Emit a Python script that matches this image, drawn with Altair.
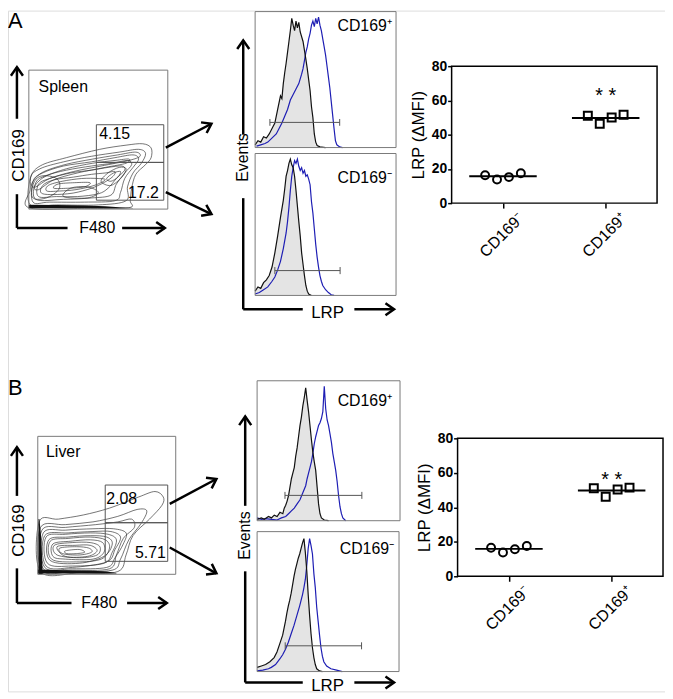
import math
import altair as alt
import pandas as pd

FONT = "Liberation Sans"
W, H = 662, 686

# ===================== DATA =====================
groups = ["CD169⁻", "CD169⁺"]
lrp_ticks = [0, 20, 40, 60, 80]

spleen_neg = [16.3, 13.8, 15.2, 17.5]
spleen_pos = [51.0, 46.4, 50.0, 51.6]
liver_neg = [16.5, 13.8, 15.7, 17.6]
liver_pos = [51.1, 46.1, 50.3, 51.4]
sig_text = "* *"
spleen_sig_at = 62.6
liver_sig_at = 56.0

tissues = ["Spleen", "Liver"]
spleen_gate_pct = ["4.15", "17.2"]
liver_gate_pct = ["2.08", "5.71"]
# gates: [x0, x1, y0, y1] in F480 / CD169 channel units (0-100)
spleen_gates = [[48.6, 97.1, 33.6, 60.7], [48.6, 97.1, 6.4, 33.6]]
liver_gates = [[48.9, 94.2, 37.4, 64.7], [48.9, 94.2, 9.4, 37.4]]

spleen_contours = [
    [(0, 1), (1, 14), (2, 25), (10, 32), (27, 37), (51, 43), (70, 46), (82, 47), (88, 44), (88, 37), (84, 32), (77, 25), (74, 15), (73, 6), (72, 1), (40, 0.5)],
    [(1, 3), (1, 22), (8, 29), (25, 34), (45, 38), (65, 41), (79, 43), (84, 40), (81, 33), (75, 26), (71, 16), (70, 6), (50, 3), (20, 3)],
    [(2, 18), (9, 26), (26, 32), (46, 36), (64, 39), (77, 41), (80, 38), (72, 35), (52, 31), (32, 27), (15, 22), (5, 16)],
    [(3, 5), (3, 20), (10, 26), (25, 31), (45, 34), (62, 37), (75, 39), (79, 36), (75, 30), (69, 22), (66, 12), (62, 6), (40, 5), (15, 5)],
    [(4, 16), (11, 23), (27, 29), (46, 33), (62, 35), (72, 36), (70, 33), (55, 30), (35, 26), (18, 21), (7, 14)],
    [(5, 7), (5, 19), (12, 24), (27, 28), (45, 31), (60, 33), (71, 35), (74, 32), (69, 26), (63, 18), (59, 10), (45, 8), (25, 7)],
    [(7, 9), (7, 18), (15, 22), (30, 26), (45, 28), (57, 30), (67, 31), (69, 28), (63, 22), (57, 15), (50, 11), (35, 9), (20, 9)],
    [(10, 11), (10, 17), (18, 21), (32, 23), (45, 25), (55, 26), (62, 27), (60, 23), (52, 18), (42, 14), (28, 11)],
    [(13, 13), (14, 17), (24, 20), (38, 22), (50, 22), (55, 21), (47, 17), (34, 14), (22, 13)],
    [(18, 15), (21, 18), (33, 19), (44, 19), (40, 16), (28, 15)],
    [(52, 20), (57, 26), (65, 30), (70, 29), (67, 23), (59, 17)],
    [(56, 22), (61, 26), (66, 27), (64, 23), (59, 20)],
    [(2, 10), (4, 20), (10, 24), (20, 22), (22, 15), (15, 9), (6, 7)],
    [(25, 9), (30, 15), (42, 16), (50, 12), (42, 8)],
]
liver_contours = [
    [(1, 38), (15, 40), (33, 43), (52, 48), (73, 56), (85, 60), (91, 56), (90, 50), (81, 40), (69, 28), (64, 14), (58, 2), (30, 1), (2, 2)],
    [(2, 34), (20, 36), (40, 38), (58, 42), (72, 47), (79, 46), (75, 37), (66, 25), (60, 11), (54, 3), (25, 2), (3, 3)],
    [(3, 32), (20, 34), (42, 36), (58, 38), (68, 40), (70, 34), (62, 26), (57, 14), (52, 4), (25, 3), (4, 4)],
    [(4, 30), (20, 32), (40, 33), (55, 33), (64, 30), (62, 22), (56, 12), (50, 5), (25, 4), (5, 5)],
    [(5, 28), (22, 30), (40, 31), (53, 31), (60, 27), (56, 18), (50, 9), (25, 5), (6, 6)],
    [(6, 27), (20, 29), (38, 30), (51, 29), (57, 25), (54, 16), (48, 8), (25, 6), (7, 8)],
    [(8, 25), (22, 27), (38, 28), (50, 27), (54, 22), (48, 13), (30, 8), (9, 10)],
    [(9, 24), (22, 26), (38, 27), (49, 25), (52, 19), (46, 11), (28, 9), (10, 11)],
    [(11, 22), (24, 24), (38, 25), (47, 23), (48, 16), (40, 11), (20, 11), (11, 13)],
    [(12, 21), (25, 23), (38, 23), (45, 20), (43, 14), (30, 12), (14, 14)],
    [(14, 20), (27, 21), (38, 21), (43, 17), (36, 13), (20, 13)],
    [(16, 19), (28, 20), (37, 19), (39, 16), (30, 14), (18, 15)],
    [(20, 17), (30, 18), (34, 16), (28, 15), (21, 15)],
]
# events piled on the axes (position, lower, upper)
spleen_pile_bottom = [(0, 0.6, 3.2), (20, 0.6, 3.0), (40, 0.6, 2.6), (55, 0.6, 2.0), (65, 0.6, 1.4), (75, 0.6, 0.8)]
liver_pile_bottom = [(0, 0.6, 3.4), (20, 0.6, 3.0), (40, 0.6, 2.6), (50, 0.6, 2.0), (57, 0.6, 1.0)]
liver_pile_left = [(0, 0.5, 3.5), (10, 0.5, 3.2), (20, 0.5, 2.8), (30, 0.5, 2.2), (40, 0.5, 1.2)]

hist_labels = ["CD169⁺", "CD169⁻"]
# histograms: (LRP channel, % of max)
spleen_pos_ctrl = [(0, 2), (2, 5), (4, 4), (6, 8), (8, 7), (10, 10), (12, 14), (14, 18), (16, 28), (18, 38), (19, 36), (20, 47), (21, 55), (22, 62), (23, 70), (24, 78), (25, 86), (26, 95), (27, 90), (28, 86), (29, 93), (30, 88), (31, 92), (32, 85), (34, 78), (36, 65), (37, 58), (38, 50), (39, 42), (40, 30), (41, 22), (42, 10), (43, 4), (44, 1.5), (46, 0.5), (50, 0)]
spleen_pos_lrp = [(1, 1), (4, 2), (7, 3), (9, 4), (11, 6), (13, 8), (15, 10), (17, 14), (19, 18), (21, 23), (23, 28), (25, 35), (27, 39), (29, 43), (31, 47), (33, 54), (34, 58), (35, 64), (36, 70), (37, 74), (38, 80), (39, 84), (40, 90), (41, 93), (42, 89), (43, 95), (44, 91), (45, 96), (46, 90), (47, 86), (48, 80), (49, 74), (50, 68), (51, 60), (52, 52), (53, 44), (54, 34), (55, 24), (56, 14), (57, 5), (58, 2), (60, 0.5), (62, 0)]
spleen_pos_marker = [10.5, 60.0, 18.5]
spleen_neg_ctrl = [(0, 3), (2, 6), (4, 5), (6, 9), (8, 11), (10, 14), (12, 20), (14, 30), (16, 42), (18, 55), (20, 67), (21, 75), (22, 84), (23, 88), (24, 93), (25, 96), (26, 92), (27, 90), (28, 84), (29, 74), (30, 63), (31, 52), (32, 42), (33, 30), (34, 22), (35, 14), (36, 7), (37, 3), (38, 1), (40, 0)]
spleen_neg_lrp = [(0, 1), (3, 2), (6, 4), (9, 6), (12, 10), (14, 13), (16, 18), (18, 24), (20, 33), (22, 44), (23, 52), (24, 62), (25, 74), (26, 84), (27, 90), (28, 95), (29, 93), (30, 96), (31, 91), (32, 88), (33, 90), (34, 86), (35, 88), (36, 84), (37, 85), (38, 82), (39, 78), (40, 66), (41, 58), (42, 47), (43, 36), (44, 27), (45, 20), (46, 14), (47, 10), (48, 7), (50, 4), (52, 2), (54, 0.5), (56, 0)]
spleen_neg_marker = [14.0, 60.3, 17.5]
liver_pos_ctrl = [(0, 1), (3, 2), (5, 1), (8, 3), (10, 2), (12, 4), (14, 3), (16, 6), (18, 5), (19, 9), (20, 11), (21, 14), (22, 18), (23, 24), (24, 30), (25, 34), (26, 38), (27, 46), (28, 52), (29, 60), (30, 68), (31, 74), (32, 82), (33, 88), (34, 95), (35, 86), (36, 78), (37, 68), (38, 58), (39, 49), (40, 42), (41, 36), (42, 24), (43, 12), (44, 5), (45, 2), (47, 0.5), (50, 0)]
liver_pos_lrp = [(0, 2), (3, 1), (6, 1.5), (10, 1), (14, 0.5), (17, 2), (20, 3), (22, 5), (24, 7), (26, 9), (28, 12), (30, 15), (32, 20), (34, 25), (35, 30), (36, 34), (37, 38), (38, 42), (39, 48), (40, 55), (41, 60), (42, 64), (43, 68), (44, 70), (45, 73), (46, 78), (47, 96), (48, 80), (49, 72), (50, 68), (51, 62), (52, 56), (53, 48), (54, 42), (55, 36), (56, 28), (57, 18), (58, 10), (59, 5), (60, 2), (62, 0)]
liver_pos_marker = [19.5, 73.3, 18.1]
liver_neg_ctrl = [(0, 3), (3, 4), (6, 5), (9, 7), (12, 10), (14, 14), (16, 20), (18, 26), (19, 31), (20, 36), (21, 42), (22, 47), (23, 51), (24, 56), (25, 62), (26, 68), (27, 73), (28, 77), (29, 81), (30, 84), (31, 88), (32, 92), (33, 95), (34, 85), (35, 72), (36, 55), (37, 40), (38, 27), (39, 17), (40, 10), (41, 5), (42, 2), (44, 0.5), (46, 0)]
liver_neg_lrp = [(0, 0.5), (4, 1), (8, 2), (10, 3), (13, 5), (16, 9), (18, 12), (20, 16), (22, 21), (24, 27), (26, 33), (28, 40), (30, 47), (32, 55), (33, 60), (34, 66), (35, 76), (36, 88), (37, 95), (38, 90), (39, 84), (40, 70), (41, 60), (42, 46), (43, 36), (44, 26), (45, 17), (46, 11), (47, 7), (49, 4), (52, 2), (56, 1), (60, 0)]
liver_neg_marker = [19.8, 73.6, 18.4]

# ===================== LAYOUT (pixels on the canvas) =====================
BOX = {
    "spleen": {"contour": (21, 161, 60, 200), "hist_pos": (249, 391, 1, 138),
               "hist_neg": (249, 391, 144, 287), "dot": (447, 654, 56, 194)},
    "liver": {"contour": (30, 169, 429, 568), "hist_pos": (251, 395, 373, 514),
              "hist_neg": (251, 394, 525, 666), "dot": (453, 660, 431, 570)},
}
TISSUE_POS = {"spleen": (7, 84), "liver": (6, 85)}
PCT_POS = {"spleen": [(50.7, 50.7, "left"), (93.6, 7.9, "right")],
           "liver": [(49.6, 51.1, "left"), (92.8, 11.5, "right")]}
HLABEL_POS = {"spleen": [(97, 86), (97, 79)], "liver": [(94.4, 82), (96.5, 84)]}
JITTER_PX = [-18, -6, 6, 18]

# line segments (x, y, x2, y2, arrowhead at (x2, y2)?)
SEGMENTS = [
    (9, 109, 9, 57, True), (9, 185, 9, 219, False), (9, 219, 60, 219, False), (115, 219, 158, 219, True),
    (159, 138, 205, 114, True), (159, 183, 205, 205, True),
    (237, 125, 237, 30, True), (237, 189, 237, 301, False), (237, 301, 297, 301, False), (349, 301, 389, 301, True),
    (9, 489, 9, 440, True), (9, 562, 9, 597, False), (9, 597, 64, 597, False), (120, 597, 160, 597, True),
    (163, 497, 210, 472, True), (163, 541, 210, 567, True),
    (239, 499, 239, 409, True), (239, 565, 239, 677, False), (239, 677, 297, 677, False), (349, 677, 389, 677, True),
]
TEXTS = [  # x, y, text, size, angle
    (0, 18, "A", 22, 0), (0, 387, "B", 22, 0),
    (11, 146, "CD169", 17, 270), (11, 524, "CD169", 17, 270),
    (90, 219, "F480", 16, 0), (92, 597, "F480", 16, 0),
    (237, 148, "Events", 16, 270), (239, 529, "Events", 16, 270),
    (322, 305, "LRP", 17, 0), (322, 681, "LRP", 17, 0),
]

# ===================== BUILD =====================
def sc(box, dom, axis):
    rng = [box[0], box[1]] if axis == "x" else [box[3], box[2]]
    return alt.Scale(domain=list(dom), range=rng, zero=False, nice=False)


def frame(sx, sy, dx, dy, color, width):
    df = pd.DataFrame([dict(x0=dx[0], x1=dx[1], y0=dy[0], y1=dy[1])])
    return alt.Chart(df).mark_rect(fillOpacity=0, stroke=color, strokeWidth=width).encode(
        x=alt.X("x0:Q", scale=sx, axis=None), x2="x1",
        y=alt.Y("y0:Q", scale=sy, axis=None), y2="y1")


def contour_panel(key, contours, gates, pcts, tissue, piles):
    box = BOX[key]["contour"]
    sx, sy = sc(box, (0, 100), "x"), sc(box, (0, 100), "y")
    out = []
    rows = [dict(c=ci, i=pi, x=x, y=y) for ci, ring in enumerate(contours) for pi, (x, y) in enumerate(ring)]
    out.append(alt.Chart(pd.DataFrame(rows)).mark_line(
        interpolate="cardinal-closed", color="#2a2a2a", strokeWidth=0.65).encode(
        x=alt.X("x:Q", scale=sx, axis=None), y=alt.Y("y:Q", scale=sy, axis=None),
        detail="c:N", order="i:Q"))
    for orient, pile in piles:
        df = pd.DataFrame(pile, columns=["p", "lo", "hi"])
        if orient == "bottom":
            enc = dict(x=alt.X("p:Q", scale=sx, axis=None), y=alt.Y("lo:Q", scale=sy, axis=None), y2="hi")
            out.append(alt.Chart(df).mark_area(color="#111", orient="vertical").encode(**enc))
        else:
            enc = dict(y=alt.Y("p:Q", scale=sy, axis=None), x=alt.X("lo:Q", scale=sx, axis=None), x2="hi")
            out.append(alt.Chart(df).mark_area(color="#111", orient="horizontal").encode(**enc))
    out.append(frame(sx, sy, (0, 100), (0, 100), "#7a7a7a", 1))
    gdf = pd.DataFrame(gates, columns=["x0", "x1", "y0", "y1"])
    out.append(alt.Chart(gdf).mark_rect(fillOpacity=0, stroke="#555", strokeWidth=1).encode(
        x=alt.X("x0:Q", scale=sx, axis=None), x2="x1", y=alt.Y("y0:Q", scale=sy, axis=None), y2="y1"))
    for (px, py, al), t in zip(PCT_POS[key], pcts):
        out.append(alt.Chart(pd.DataFrame([dict(x=px, y=py, t=t)])).mark_text(
            font=FONT, fontSize=16, align=al, baseline="alphabetic", color="black").encode(
            x=alt.X("x:Q", scale=sx, axis=None), y=alt.Y("y:Q", scale=sy, axis=None), text="t:N"))
    tx, ty = TISSUE_POS[key]
    out.append(alt.Chart(pd.DataFrame([dict(x=tx, y=ty, t=tissue)])).mark_text(
        font=FONT, fontSize=16, align="left", baseline="alphabetic", color="black").encode(
        x=alt.X("x:Q", scale=sx, axis=None), y=alt.Y("y:Q", scale=sy, axis=None), text="t:N"))
    return out


def hist_panel(key, which, ctrl, lrp, marker, label, lpos):
    box = BOX[key][which]
    sx, sy = sc(box, (0, 100), "x"), sc(box, (0, 100), "y")
    cdf = pd.DataFrame(ctrl, columns=["x", "y"])
    ldf = pd.DataFrame(lrp, columns=["x", "y"])
    X = alt.X("x:Q", scale=sx, axis=None)
    Y = alt.Y("y:Q", scale=sy, axis=None)
    out = [
        alt.Chart(cdf).mark_area(color="#e4e4e4", opacity=1).encode(x=X, y=Y),
        alt.Chart(ldf).mark_line(color="#1e1eb4", strokeWidth=1.2).encode(x=X, y=Y),
        alt.Chart(cdf).mark_line(color="#111", strokeWidth=1.2).encode(x=X, y=Y),
    ]
    m = pd.DataFrame([dict(x0=marker[0], x1=marker[1], y=marker[2])])
    out.append(alt.Chart(m).mark_rule(color="#555", strokeWidth=1).encode(
        x=alt.X("x0:Q", scale=sx, axis=None), x2="x1", y=alt.Y("y:Q", scale=sy, axis=None)))
    ends = pd.DataFrame([dict(x=v, y0=marker[2] - 2.5, y1=marker[2] + 2.5) for v in marker[:2]])
    out.append(alt.Chart(ends).mark_rule(color="#555", strokeWidth=1).encode(
        x=alt.X("x:Q", scale=sx, axis=None), y=alt.Y("y0:Q", scale=sy, axis=None), y2="y1"))
    out.append(frame(sx, sy, (0, 100), (0, 100), "#7a7a7a", 1))
    out.append(alt.Chart(pd.DataFrame([dict(x=lpos[0], y=lpos[1], t=label)])).mark_text(
        font=FONT, fontSize=16, align="right", baseline="alphabetic", color="black").encode(
        x=alt.X("x:Q", scale=sx, axis=None), y=alt.Y("y:Q", scale=sy, axis=None), text="t:N"))
    return out


def dot_panel(key, neg, pos, sig_at):
    box = BOX[key]["dot"]
    sx, sy = sc(box, (0, 2), "x"), sc(box, (0, 80), "y")
    step = (box[1] - box[0]) / 2
    rows = []
    for g, vals in enumerate([neg, pos]):
        for i, v in enumerate(vals):
            rows.append(dict(grp=groups[g], center=g + 0.5, x=g + 0.5 + JITTER_PX[i] / step, value=v))
    df = pd.DataFrame(rows)
    label_expr = f"datum.value < 1 ? '{groups[0]}' : '{groups[1]}'"
    out = [frame(sx, sy, (0, 2), (0, 80), "black", 1.5)]
    out.append(alt.Chart(df).mark_tick(orient="horizontal", color="black", thickness=2, size=68).encode(
        x=alt.X("center:Q", scale=sx, axis=None),
        y=alt.Y("mean(value):Q", scale=sy, axis=None)))
    out.append(alt.Chart(df).mark_point(filled=False, color="black", strokeWidth=2, size=64, opacity=1).encode(
        x=alt.X("x:Q", scale=sx, axis=alt.Axis(
            orient="bottom", offset=box[3] - H, values=[0.5, 1.5], labelExpr=label_expr, title=None,
            grid=False, domain=False, ticks=True, tickColor="black", tickWidth=1.5, tickSize=5,
            labelAngle=315, labelAlign="right", labelBaseline="top", labelOffset=12, labelPadding=2,
            labelFont=FONT, labelFontSize=16, labelColor="black")),
        y=alt.Y("value:Q", scale=sy, axis=alt.Axis(
            orient="left", offset=-box[0], values=lrp_ticks, title="LRP (ΔMFI)", grid=False,
            domain=False, tickColor="black", tickWidth=1.5, tickSize=4, labelPadding=1,
            labelFont=FONT, labelFontSize=14, labelFontWeight="bold", labelColor="black",
            titleFont=FONT, titleFontSize=17, titleFontWeight="normal", titleColor="black",
            titlePadding=4)),
        shape=alt.Shape("grp:N", scale=alt.Scale(domain=groups, range=["circle", "square"]), legend=None)))
    out.append(alt.Chart(pd.DataFrame([dict(x=1.5, y=sig_at, t=sig_text)])).mark_text(
        font=FONT, fontSize=20, align="center", baseline="middle", color="black").encode(
        x=alt.X("x:Q", scale=sx, axis=None), y=alt.Y("y:Q", scale=sy, axis=None), text="t:N"))
    return out


def decorations():
    cx = alt.Scale(domain=[0, W], range=[0, W], zero=False, nice=False)
    cy = alt.Scale(domain=[0, H], range=[0, H], zero=False, nice=False)
    seg = pd.DataFrame([dict(x=a, y=b, x2=c, y2=d) for a, b, c, d, _ in SEGMENTS])
    heads = pd.DataFrame([dict(x=c, y=d, ang=(math.degrees(math.atan2(d - b, c - a)) + 360) % 360)
                          for a, b, c, d, h in SEGMENTS if h])
    out = [alt.Chart(seg).mark_rule(color="black", strokeWidth=2.5).encode(
        x=alt.X("x:Q", scale=cx, axis=None), x2="x2", y=alt.Y("y:Q", scale=cy, axis=None), y2="y2")]
    out.append(alt.Chart(heads).mark_point(
        shape="M -1 -0.7 L 0 0 L -1 0.7", filled=False, color="black", strokeWidth=2.5,
        size=300, opacity=1, strokeJoin="miter").encode(
        x=alt.X("x:Q", scale=cx, axis=None), y=alt.Y("y:Q", scale=cy, axis=None),
        angle=alt.Angle("ang:Q", scale=None)))
    for x, y, t, s, a in TEXTS:
        base = "alphabetic" if t in ("A", "B") else "middle"
        al = "left" if t in ("A", "B") else "center"
        out.append(alt.Chart(pd.DataFrame([dict(x=x, y=y, t=t)])).mark_text(
            font=FONT, fontSize=s, angle=a, align=al, baseline=base, color="black").encode(
            x=alt.X("x:Q", scale=cx, axis=None), y=alt.Y("y:Q", scale=cy, axis=None), text="t:N"))
    return out


layers = []
layers += contour_panel("spleen", spleen_contours, spleen_gates, spleen_gate_pct, tissues[0],
                        [("bottom", spleen_pile_bottom)])
layers += contour_panel("liver", liver_contours, liver_gates, liver_gate_pct, tissues[1],
                        [("bottom", liver_pile_bottom), ("left", liver_pile_left)])
layers += hist_panel("spleen", "hist_pos", spleen_pos_ctrl, spleen_pos_lrp, spleen_pos_marker, hist_labels[0], HLABEL_POS["spleen"][0])
layers += hist_panel("spleen", "hist_neg", spleen_neg_ctrl, spleen_neg_lrp, spleen_neg_marker, hist_labels[1], HLABEL_POS["spleen"][1])
layers += hist_panel("liver", "hist_pos", liver_pos_ctrl, liver_pos_lrp, liver_pos_marker, hist_labels[0], HLABEL_POS["liver"][0])
layers += hist_panel("liver", "hist_neg", liver_neg_ctrl, liver_neg_lrp, liver_neg_marker, hist_labels[1], HLABEL_POS["liver"][1])
layers += dot_panel("spleen", spleen_neg, spleen_pos, spleen_sig_at)
layers += dot_panel("liver", liver_neg, liver_pos, liver_sig_at)
layers += decorations()

chart = alt.layer(*layers).resolve_scale(
    x="independent", y="independent", shape="independent"
).resolve_axis(x="independent", y="independent").properties(
    width=W, height=H, padding=0, autosize=alt.AutoSizeParams(type="none")
).configure_view(stroke=None).configure(background="white")

chart.save("out.html", embed_options={"renderer": "svg", "actions": False})
